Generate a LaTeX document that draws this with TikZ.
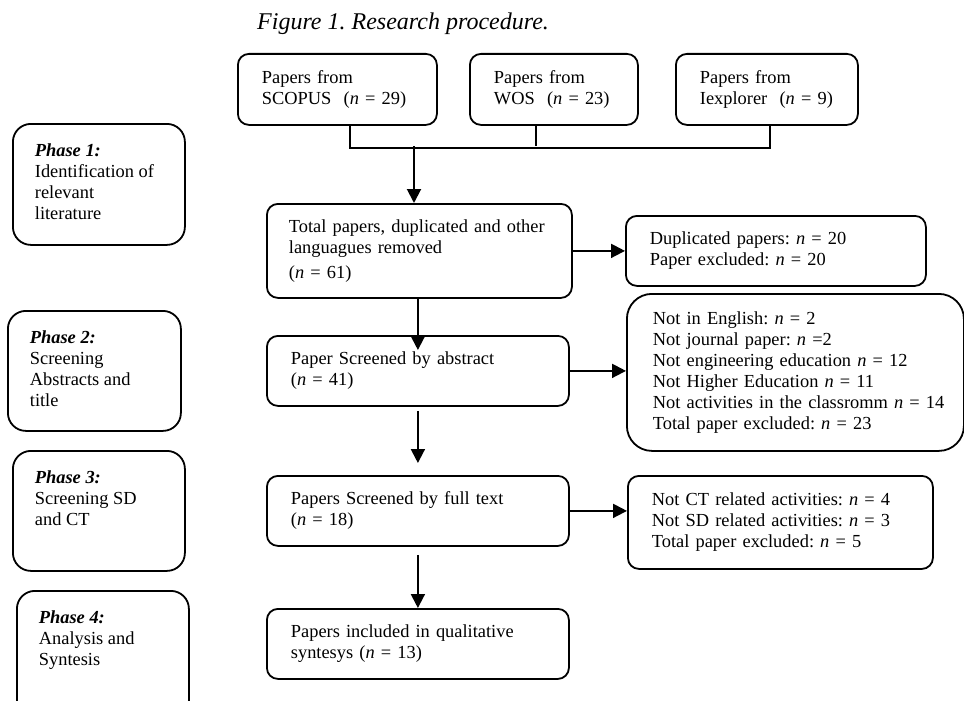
\documentclass[tikz,border=0pt]{standalone}
\usepackage{fontspec}
\setmainfont{Liberation Serif}
\usetikzlibrary{arrows.meta}
\frenchspacing

\begin{document}
\begin{tikzpicture}[x=1pt, y=-1pt,
  box/.style={draw, line width=1.8pt, rounded corners=11pt, anchor=north west, align=left, inner xsep=24pt, inner ysep=0pt, font=\fontsize{18.4}{21}\selectfont},
  ph/.style={draw, line width=1.8pt, rounded corners=18pt, anchor=north west, inner xsep=22pt, inner ysep=20pt, font=\fontsize{18.4}{21}\selectfont},
  ln/.style={line width=1.8pt},
  arr/.style={line width=2pt, -{Triangle[length=14pt, width=14pt]}}]
\useasboundingbox (0,0) rectangle (964,701);
\clip (0,0) rectangle (964,701);
\node[anchor=base west, inner sep=0pt, font=\fontsize{24}{28}\selectfont\itshape] (title) at (257,30) {Figure 1. Research procedure.};
% sources
\node[box, minimum width=199pt, minimum height=71pt, text width=151pt] (sc) at (237,53) {Papers from\\SCOPUS\ \ (\textit{n} = 29)};
\node[box, minimum width=168pt, minimum height=71pt, text width=120pt] (wos) at (469,53) {Papers from\\WOS\ \ (\textit{n} = 23)};
\node[box, minimum width=182pt, minimum height=71pt, text width=134pt] (iex) at (675,53) {Papers from\\\mbox{Iexplorer\ \ (\textit{n} = 9)}};
% main column
\node[box, inner xsep=22pt, minimum width=305pt, minimum height=94pt, text width=261pt] (tot) at (266,203) {\mbox{Total papers, duplicated and other}\\languagues removed\\[4pt](\textit{n} = 61)};
\node[box, minimum width=302pt, minimum height=70pt, text width=254pt] (abs) at (266,335) {Paper Screened by abstract\\(\textit{n} = 41)};
\node[box, minimum width=302pt, minimum height=70pt, text width=254pt] (full) at (266,475) {Papers Screened by full text\\(\textit{n} = 18)};
\node[box, minimum width=302pt, minimum height=70pt, text width=254pt] (incl) at (266,608) {Papers included in qualitative\\syntesys (\textit{n} = 13)};
% exclusions
\node[box, minimum width=300pt, minimum height=70pt, text width=252pt] (dup) at (625,215) {Duplicated papers: \textit{n} = 20\\Paper excluded: \textit{n} = 20};
\node[box, rounded corners=25pt, inner xsep=26pt, minimum width=337pt, minimum height=157pt, text width=285pt] (excl) at (626,293) {Not in English: \textit{n} = 2\\Not journal paper: \textit{n} =2\\Not engineering education \textit{n} = 12\\Not Higher Education \textit{n} = 11\\\mbox{Not activities in the classromm \textit{n} = 14}\\Total paper excluded: \textit{n} = 23};
\node[box, minimum width=305pt, minimum height=93pt, text width=257pt] (ct) at (627,475) {Not CT related activities: \textit{n} = 4\\Not SD related activities: \textit{n} = 3\\Total paper excluded: \textit{n} = 5};
% phases
\node[ph, minimum width=172pt] (p1) at (12,123) {\parbox[c][81pt][t]{128pt}{\raggedright\textbf{\textit{Phase 1:}}\\\mbox{Identification of}\\relevant\\literature}};
\node[ph, minimum width=173pt] (p2) at (7,310) {\parbox[c][80pt][t]{129pt}{\raggedright\textbf{\textit{Phase 2:}}\\Screening\\Abstracts and\\title}};
\node[ph, minimum width=172pt] (p3) at (12,450) {\parbox[c][80pt][t]{128pt}{\raggedright\textbf{\textit{Phase 3:}}\\Screening SD\\and CT}};
\node[ph, minimum width=172pt] (p4) at (16,590) {\parbox[c][88pt][t]{128pt}{\raggedright\textbf{\textit{Phase 4:}}\\Analysis and\\Syntesis}};
% merge of the sources
\coordinate (merge) at (414,146);
\draw[ln] ([xshift=12.5pt]sc.south) -- ++(0,22) -| ([xshift=3pt]iex.south);
\draw[ln] ([xshift=-18pt]wos.south) -- ([xshift=-18pt]wos.south |- merge);
\draw[arr] (merge) -- (merge |- tot.north);
% flow
\draw[arr, shorten >=-15pt] (abs.north |- tot.south) -- (abs.north);
\draw[arr, shorten <=4pt, shorten >=12pt] (abs.south) -- (full.north);
\draw[arr, shorten <=8pt] (full.south) -- (incl.north);
\draw[arr] (tot.east) -- (tot.east -| dup.west);
\draw[arr] (abs.east) -- (abs.east -| excl.west);
\draw[arr] (full.east) -- (full.east -| ct.west);
\end{tikzpicture}
\end{document}
